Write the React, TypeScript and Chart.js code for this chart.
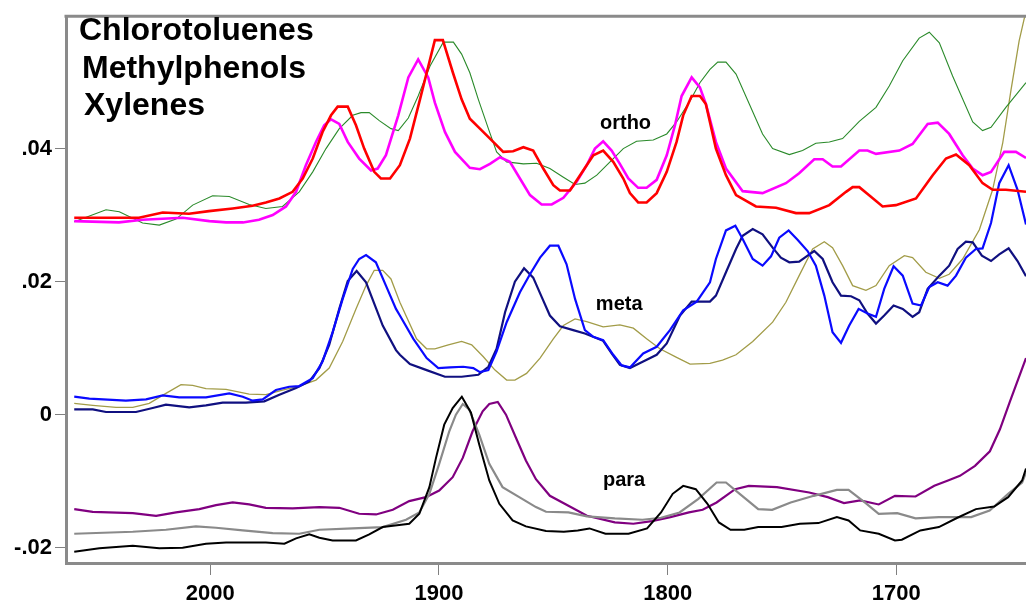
import React, { useEffect, useRef } from "react";
import { Chart, registerables } from "chart.js";

Chart.register(...registerables);

// ---- axis ticks ----
const xTickValues = [2000, 1900, 1800, 1700];
const xTickLabels = ["2000", "1900", "1800", "1700"];
const yTickValues = [0.04, 0.02, 0, -0.02];
const yTickLabels = [".04", ".02", "0", "-.02"];

// ---- text ----
const titleLines = ["Chlorotoluenes", "Methylphenols", "Xylenes"];
const groupLabels = ["ortho", "meta", "para"];

// ---- ortho group ----
const orthoRedX = [2059.5, 2031.2, 2020.8, 2009.3, 2000.6, 1990.2, 1981.5, 1975.7, 1969.8, 1964.0, 1959.6, 1955.2, 1950.9, 1947.2, 1944.3, 1939.9, 1936.3, 1932.7, 1928.3, 1925.4, 1921.4, 1917.1, 1912.7, 1908.3, 1903.9, 1901.8, 1898.3, 1893.9, 1890.1, 1886.5, 1882.1, 1877.7, 1871.9, 1867.6, 1863.1, 1858.8, 1854.4, 1850.0, 1847.1, 1842.7, 1838.3, 1832.5, 1828.2, 1823.8, 1819.4, 1816.5, 1812.9, 1809.2, 1804.8, 1800.4, 1796.1, 1793.2, 1789.5, 1785.9, 1783.3, 1778.9, 1774.5, 1770.1, 1761.4, 1752.6, 1743.9, 1738.1, 1729.3, 1722.0, 1719.1, 1716.2, 1711.9, 1706.0, 1700.2, 1691.4, 1684.1, 1678.3, 1673.9, 1668.1, 1662.3, 1657.9, 1652.1, 1643.3];
const orthoRedY = [0.0296, 0.0296, 0.0304, 0.0302, 0.0306, 0.0310, 0.0314, 0.0319, 0.0325, 0.0335, 0.0355, 0.0385, 0.0425, 0.0450, 0.0463, 0.0463, 0.0435, 0.0400, 0.0365, 0.0355, 0.0355, 0.0375, 0.0415, 0.0474, 0.0534, 0.0563, 0.0563, 0.0514, 0.0474, 0.0445, 0.0430, 0.0415, 0.0395, 0.0396, 0.0402, 0.0397, 0.0370, 0.0345, 0.0337, 0.0337, 0.0360, 0.0390, 0.0397, 0.0380, 0.0355, 0.0333, 0.0319, 0.0319, 0.0333, 0.0365, 0.0410, 0.0450, 0.0479, 0.0479, 0.0467, 0.0400, 0.0360, 0.0330, 0.0313, 0.0311, 0.0303, 0.0303, 0.0315, 0.0335, 0.0342, 0.0342, 0.0330, 0.0313, 0.0315, 0.0325, 0.0360, 0.0385, 0.0391, 0.0375, 0.0348, 0.0338, 0.0338, 0.0335];

const orthoMagentaX = [2059.5, 2039.9, 2029.6, 2012.1, 2000.4, 1993.1, 1985.7, 1978.7, 1972.7, 1966.9, 1962.5, 1958.2, 1953.8, 1950.2, 1947.2, 1943.6, 1939.9, 1934.9, 1929.7, 1926.8, 1923.2, 1917.8, 1913.4, 1909.1, 1904.7, 1901.8, 1897.4, 1893.0, 1886.5, 1882.1, 1877.7, 1873.3, 1869.0, 1864.6, 1860.2, 1855.1, 1850.7, 1845.6, 1839.8, 1835.4, 1831.8, 1828.2, 1824.5, 1820.9, 1817.2, 1812.9, 1809.2, 1804.8, 1800.4, 1796.8, 1793.9, 1789.5, 1785.9, 1783.3, 1778.9, 1774.5, 1767.2, 1758.5, 1748.3, 1742.5, 1735.9, 1732.2, 1727.9, 1724.2, 1716.2, 1712.6, 1708.9, 1698.7, 1692.9, 1686.3, 1681.9, 1676.9, 1671.0, 1666.6, 1662.3, 1658.6, 1652.8, 1647.7, 1643.3];
const orthoMagentaY = [0.0291, 0.0289, 0.0293, 0.0296, 0.0291, 0.0289, 0.0289, 0.0293, 0.0300, 0.0313, 0.0335, 0.0375, 0.0410, 0.0435, 0.0444, 0.0437, 0.0410, 0.0385, 0.0367, 0.0370, 0.0390, 0.0450, 0.0507, 0.0534, 0.0507, 0.0469, 0.0425, 0.0395, 0.0371, 0.0369, 0.0377, 0.0387, 0.0380, 0.0355, 0.0330, 0.0316, 0.0316, 0.0326, 0.0350, 0.0375, 0.0400, 0.0411, 0.0397, 0.0377, 0.0355, 0.0341, 0.0341, 0.0353, 0.0390, 0.0435, 0.0479, 0.0507, 0.0492, 0.0467, 0.0410, 0.0370, 0.0336, 0.0333, 0.0348, 0.0363, 0.0384, 0.0384, 0.0373, 0.0373, 0.0397, 0.0397, 0.0392, 0.0397, 0.0407, 0.0437, 0.0439, 0.0422, 0.0390, 0.0370, 0.0360, 0.0365, 0.0395, 0.0395, 0.0386];

const orthoGreenX = [2059.5, 2045.6, 2039.8, 2029.6, 2022.3, 2015.0, 2007.7, 1999.0, 1991.7, 1983.0, 1975.7, 1968.4, 1961.1, 1955.2, 1949.4, 1943.6, 1937.7, 1934.1, 1930.5, 1926.1, 1921.0, 1917.8, 1913.4, 1909.1, 1903.9, 1898.1, 1893.7, 1890.1, 1886.5, 1882.8, 1878.4, 1874.8, 1870.4, 1863.1, 1857.3, 1851.5, 1845.6, 1840.5, 1836.2, 1831.0, 1825.2, 1819.4, 1813.6, 1806.3, 1800.4, 1796.1, 1790.2, 1785.9, 1781.5, 1778.1, 1774.5, 1770.1, 1764.3, 1758.5, 1754.1, 1746.8, 1741.0, 1735.2, 1729.3, 1723.5, 1716.2, 1708.9, 1703.1, 1697.2, 1690.0, 1685.6, 1681.2, 1675.4, 1666.6, 1662.3, 1658.6, 1652.1, 1643.3];
const orthoGreenY = [0.0290, 0.0308, 0.0305, 0.0288, 0.0285, 0.0294, 0.0315, 0.0329, 0.0328, 0.0316, 0.0310, 0.0313, 0.0335, 0.0365, 0.0400, 0.0430, 0.0450, 0.0454, 0.0454, 0.0442, 0.0430, 0.0427, 0.0446, 0.0479, 0.0524, 0.0560, 0.0560, 0.0542, 0.0514, 0.0474, 0.0430, 0.0395, 0.0380, 0.0377, 0.0378, 0.0370, 0.0357, 0.0346, 0.0348, 0.0360, 0.0380, 0.0400, 0.0411, 0.0413, 0.0422, 0.0440, 0.0472, 0.0499, 0.0519, 0.0530, 0.0530, 0.0512, 0.0467, 0.0422, 0.0400, 0.0391, 0.0397, 0.0408, 0.0410, 0.0415, 0.0441, 0.0462, 0.0494, 0.0532, 0.0566, 0.0575, 0.0559, 0.0509, 0.0440, 0.0427, 0.0432, 0.0462, 0.0499];

// ---- meta group ----
const metaBlueX = [2059.5, 2052.9, 2036.9, 2028.1, 2020.8, 2013.6, 2001.9, 1991.7, 1985.8, 1981.5, 1977.1, 1971.3, 1965.5, 1961.1, 1955.2, 1950.9, 1946.5, 1942.1, 1937.7, 1934.9, 1931.9, 1927.6, 1923.2, 1918.8, 1917.1, 1911.2, 1905.4, 1900.3, 1895.2, 1889.4, 1885.0, 1882.1, 1878.4, 1874.8, 1870.4, 1864.6, 1860.2, 1855.8, 1851.5, 1847.8, 1844.2, 1840.5, 1836.2, 1832.5, 1828.2, 1823.8, 1820.1, 1816.5, 1810.7, 1804.8, 1799.0, 1793.2, 1787.3, 1781.5, 1778.9, 1774.5, 1770.4, 1767.2, 1762.8, 1758.5, 1754.8, 1751.2, 1747.1, 1743.2, 1738.8, 1735.2, 1731.5, 1727.9, 1724.2, 1720.6, 1716.5, 1712.6, 1708.9, 1705.3, 1701.2, 1697.2, 1692.9, 1689.2, 1685.6, 1681.9, 1677.6, 1673.9, 1669.6, 1665.2, 1662.3, 1658.6, 1655.0, 1650.9, 1647.0, 1643.3];
const metaBlueY = [0.0027, 0.0024, 0.0021, 0.0023, 0.0029, 0.0026, 0.0026, 0.0032, 0.0027, 0.0021, 0.0023, 0.0037, 0.0042, 0.0043, 0.0055, 0.0080, 0.0124, 0.0174, 0.0219, 0.0234, 0.0240, 0.0229, 0.0194, 0.0159, 0.0149, 0.0114, 0.0085, 0.0070, 0.0071, 0.0072, 0.0070, 0.0064, 0.0067, 0.0095, 0.0139, 0.0184, 0.0211, 0.0236, 0.0254, 0.0254, 0.0226, 0.0174, 0.0127, 0.0117, 0.0112, 0.0090, 0.0074, 0.0071, 0.0092, 0.0102, 0.0127, 0.0157, 0.0170, 0.0199, 0.0234, 0.0277, 0.0284, 0.0264, 0.0234, 0.0224, 0.0238, 0.0266, 0.0277, 0.0263, 0.0246, 0.0224, 0.0179, 0.0124, 0.0108, 0.0134, 0.0159, 0.0152, 0.0147, 0.0189, 0.0223, 0.0209, 0.0167, 0.0164, 0.0192, 0.0199, 0.0194, 0.0209, 0.0236, 0.0249, 0.0250, 0.0288, 0.0348, 0.0375, 0.0338, 0.0286];

const metaNavyX = [2059.5, 2051.4, 2045.6, 2032.5, 2025.2, 2019.4, 2009.2, 2001.9, 1994.6, 1984.4, 1976.4, 1969.8, 1962.5, 1956.7, 1952.3, 1948.0, 1943.6, 1939.9, 1936.0, 1931.9, 1924.6, 1918.8, 1917.1, 1912.7, 1905.4, 1897.4, 1890.1, 1882.8, 1878.4, 1874.8, 1871.1, 1866.8, 1862.8, 1858.8, 1855.1, 1851.5, 1847.1, 1841.3, 1836.2, 1828.2, 1824.5, 1820.9, 1816.5, 1810.7, 1804.8, 1800.4, 1794.6, 1789.5, 1781.5, 1778.9, 1774.5, 1770.1, 1767.2, 1762.8, 1758.5, 1754.1, 1750.5, 1746.8, 1742.5, 1738.8, 1735.9, 1732.2, 1727.9, 1724.2, 1719.8, 1716.2, 1712.6, 1708.9, 1705.3, 1701.2, 1697.2, 1692.9, 1690.0, 1686.3, 1681.2, 1676.9, 1673.2, 1669.6, 1666.6, 1662.6, 1658.6, 1655.0, 1650.9, 1647.0, 1643.3];
const metaNavyY = [0.0008, 0.0008, 0.0004, 0.0004, 0.0010, 0.0015, 0.0011, 0.0014, 0.0018, 0.0018, 0.0020, 0.0030, 0.0040, 0.0050, 0.0070, 0.0105, 0.0159, 0.0201, 0.0216, 0.0199, 0.0134, 0.0097, 0.0090, 0.0076, 0.0067, 0.0057, 0.0057, 0.0060, 0.0072, 0.0099, 0.0154, 0.0200, 0.0220, 0.0206, 0.0177, 0.0149, 0.0133, 0.0127, 0.0122, 0.0111, 0.0092, 0.0075, 0.0070, 0.0080, 0.0090, 0.0107, 0.0149, 0.0170, 0.0170, 0.0179, 0.0214, 0.0249, 0.0269, 0.0279, 0.0271, 0.0251, 0.0236, 0.0229, 0.0230, 0.0239, 0.0246, 0.0234, 0.0199, 0.0179, 0.0178, 0.0172, 0.0152, 0.0137, 0.0149, 0.0164, 0.0159, 0.0147, 0.0154, 0.0189, 0.0209, 0.0224, 0.0249, 0.0260, 0.0259, 0.0239, 0.0231, 0.0241, 0.0250, 0.0231, 0.0208];

const metaOliveX = [2059.5, 2051.4, 2041.2, 2033.9, 2026.7, 2019.4, 2012.8, 2007.7, 2001.9, 1993.1, 1983.0, 1975.7, 1968.4, 1961.1, 1953.8, 1948.0, 1942.1, 1936.3, 1931.9, 1928.3, 1924.6, 1921.0, 1917.1, 1909.8, 1905.4, 1901.8, 1895.9, 1890.1, 1885.7, 1880.6, 1875.5, 1870.4, 1866.8, 1861.7, 1855.8, 1850.0, 1845.6, 1840.5, 1835.4, 1828.2, 1820.9, 1815.0, 1809.2, 1803.4, 1796.1, 1790.2, 1781.5, 1776.0, 1770.1, 1762.8, 1754.1, 1748.3, 1742.5, 1736.6, 1731.5, 1727.9, 1723.5, 1719.1, 1713.3, 1708.9, 1703.1, 1696.5, 1692.9, 1687.1, 1681.2, 1676.9, 1671.0, 1663.7, 1657.9, 1653.5, 1649.9, 1646.3, 1643.3];
const metaOliveY = [0.0017, 0.0014, 0.0011, 0.0011, 0.0017, 0.0032, 0.0045, 0.0044, 0.0039, 0.0038, 0.0031, 0.0030, 0.0037, 0.0043, 0.0052, 0.0070, 0.0110, 0.0159, 0.0194, 0.0217, 0.0217, 0.0204, 0.0169, 0.0114, 0.0099, 0.0099, 0.0105, 0.0110, 0.0105, 0.0087, 0.0067, 0.0052, 0.0052, 0.0062, 0.0085, 0.0114, 0.0134, 0.0144, 0.0140, 0.0132, 0.0135, 0.0130, 0.0114, 0.0099, 0.0086, 0.0076, 0.0077, 0.0082, 0.0090, 0.0110, 0.0139, 0.0169, 0.0209, 0.0249, 0.0260, 0.0251, 0.0224, 0.0194, 0.0187, 0.0194, 0.0224, 0.0239, 0.0236, 0.0214, 0.0205, 0.0211, 0.0234, 0.0278, 0.0338, 0.0408, 0.0487, 0.0562, 0.0607];

// ---- para group ----
const paraPurpleX = [2059.5, 2051.4, 2033.9, 2023.7, 2015.0, 2004.8, 1997.5, 1990.2, 1983.0, 1975.7, 1964.0, 1952.3, 1943.6, 1934.9, 1927.5, 1920.2, 1913.0, 1905.7, 1899.9, 1894.0, 1889.6, 1885.3, 1880.9, 1878.0, 1874.3, 1870.7, 1866.3, 1862.0, 1857.6, 1851.5, 1843.4, 1835.3, 1823.1, 1815.0, 1806.9, 1798.8, 1790.7, 1784.7, 1778.6, 1770.5, 1764.5, 1752.2, 1738.1, 1730.0, 1722.9, 1715.8, 1707.7, 1700.6, 1691.6, 1683.4, 1677.4, 1672.2, 1665.6, 1659.1, 1654.7, 1650.3, 1643.3];
const paraPurpleY = [-0.0142, -0.0146, -0.0148, -0.0152, -0.0147, -0.0142, -0.0136, -0.0132, -0.0135, -0.0140, -0.0141, -0.0139, -0.0140, -0.0149, -0.0150, -0.0143, -0.0130, -0.0124, -0.0114, -0.0094, -0.0065, -0.0025, 0.0005, 0.0016, 0.0019, 0.0000, -0.0035, -0.0069, -0.0097, -0.0122, -0.0137, -0.0152, -0.0162, -0.0164, -0.0160, -0.0154, -0.0147, -0.0143, -0.0132, -0.0112, -0.0107, -0.0109, -0.0117, -0.0124, -0.0133, -0.0129, -0.0135, -0.0122, -0.0123, -0.0107, -0.0099, -0.0092, -0.0077, -0.0055, -0.0022, 0.0020, 0.0085];

const paraGrayX = [2059.5, 2033.9, 2019.4, 2006.3, 1997.5, 1985.8, 1972.7, 1961.1, 1952.3, 1937.7, 1924.6, 1914.4, 1908.6, 1904.2, 1899.9, 1895.5, 1892.6, 1889.6, 1886.8, 1882.4, 1878.0, 1872.2, 1864.9, 1857.6, 1853.2, 1843.4, 1835.3, 1823.1, 1811.0, 1802.9, 1794.8, 1786.7, 1778.6, 1774.5, 1768.5, 1760.4, 1754.3, 1746.2, 1736.1, 1726.0, 1720.9, 1713.8, 1707.7, 1699.6, 1691.6, 1681.4, 1667.3, 1659.2, 1651.1, 1645.0, 1643.3];
const paraGrayY = [-0.0179, -0.0176, -0.0173, -0.0168, -0.0170, -0.0174, -0.0178, -0.0179, -0.0173, -0.0171, -0.0169, -0.0158, -0.0147, -0.0119, -0.0074, -0.0025, 0.0000, 0.0016, 0.0008, -0.0030, -0.0074, -0.0109, -0.0124, -0.0139, -0.0146, -0.0147, -0.0153, -0.0156, -0.0158, -0.0155, -0.0147, -0.0127, -0.0102, -0.0102, -0.0119, -0.0142, -0.0143, -0.0132, -0.0122, -0.0113, -0.0113, -0.0132, -0.0149, -0.0148, -0.0156, -0.0154, -0.0154, -0.0144, -0.0119, -0.0102, -0.0087];

const paraBlackX = [2059.5, 2048.5, 2033.9, 2022.3, 2012.1, 2001.9, 1993.1, 1975.7, 1967.6, 1962.5, 1956.7, 1952.3, 1946.5, 1936.3, 1930.5, 1924.6, 1917.4, 1913.0, 1908.6, 1904.2, 1901.3, 1897.7, 1894.0, 1890.0, 1886.0, 1882.4, 1878.0, 1873.6, 1867.8, 1862.0, 1853.2, 1845.4, 1839.3, 1834.2, 1827.2, 1817.1, 1809.0, 1802.9, 1797.8, 1793.2, 1787.7, 1782.6, 1777.6, 1772.5, 1766.5, 1760.4, 1750.2, 1742.2, 1734.1, 1726.0, 1720.9, 1715.8, 1707.7, 1700.6, 1697.6, 1689.5, 1681.4, 1673.3, 1665.2, 1657.2, 1651.1, 1645.0, 1643.3];
const paraBlackY = [-0.0206, -0.0201, -0.0197, -0.0201, -0.0200, -0.0194, -0.0192, -0.0192, -0.0194, -0.0186, -0.0180, -0.0185, -0.0189, -0.0189, -0.0180, -0.0169, -0.0166, -0.0164, -0.0149, -0.0109, -0.0065, -0.0015, 0.0010, 0.0027, 0.0003, -0.0045, -0.0099, -0.0134, -0.0159, -0.0168, -0.0175, -0.0176, -0.0174, -0.0171, -0.0179, -0.0179, -0.0171, -0.0147, -0.0119, -0.0107, -0.0112, -0.0134, -0.0162, -0.0173, -0.0173, -0.0169, -0.0169, -0.0164, -0.0163, -0.0154, -0.0159, -0.0174, -0.0179, -0.0189, -0.0188, -0.0174, -0.0169, -0.0155, -0.0142, -0.0138, -0.0124, -0.0099, -0.0081];

const FONT = '"Liberation Sans", Arial, Helvetica, sans-serif';

function zip(xs: number[], ys: number[]) {
  const n = Math.min(xs.length, ys.length);
  const out: { x: number; y: number }[] = [];
  for (let i = 0; i < n; i++) out.push({ x: xs[i], y: ys[i] });
  return out;
}

export default function App() {
  const ref = useRef<HTMLCanvasElement | null>(null);

  useEffect(() => {
    const canvas = ref.current;
    if (!canvas) return;

    const series = [
      { name: "ortho red", xs: orthoRedX, ys: orthoRedY, color: "#ff0000", width: 2.6 },
      { name: "ortho magenta", xs: orthoMagentaX, ys: orthoMagentaY, color: "#ff00ff", width: 2.6 },
      { name: "ortho green", xs: orthoGreenX, ys: orthoGreenY, color: "#2a8a2a", width: 1.1 },
      { name: "meta blue", xs: metaBlueX, ys: metaBlueY, color: "#0a0aff", width: 2.2 },
      { name: "meta navy", xs: metaNavyX, ys: metaNavyY, color: "#101080", width: 2.2 },
      { name: "meta olive", xs: metaOliveX, ys: metaOliveY, color: "#a29c48", width: 1.3 },
      { name: "para black", xs: paraBlackX, ys: paraBlackY, color: "#000000", width: 2.0 },
      { name: "para gray", xs: paraGrayX, ys: paraGrayY, color: "#8a8a8a", width: 2.2 },
      { name: "para purple", xs: paraPurpleX, ys: paraPurpleY, color: "#800080", width: 2.2 },
    ];

    const labelAnchors = [
      { x: 1829.6, y: 0.0430 },
      { x: 1831.4, y: 0.0158 },
      { x: 1828.3, y: -0.0107 },
    ];

    const framePlugin = {
      id: "frameAndText",
      afterDraw(chart: any) {
        const { ctx, chartArea, scales } = chart;
        ctx.save();
        ctx.strokeStyle = "#8a8a8a";
        ctx.lineWidth = 3;
        ctx.beginPath();
        ctx.moveTo(chartArea.left - 1.5, chartArea.top);
        ctx.lineTo(chart.width, chartArea.top);
        ctx.stroke();

        ctx.fillStyle = "#000";
        ctx.textAlign = "left";
        ctx.textBaseline = "alphabetic";
        ctx.font = `bold 32px ${FONT}`;
        const tx = [79, 82, 84];
        const ty = [40, 78, 115];
        titleLines.forEach((t, i) => ctx.fillText(t, tx[i], ty[i]));

        ctx.font = `bold 20px ${FONT}`;
        groupLabels.forEach((t, i) => {
          const a = labelAnchors[i];
          ctx.fillText(t, scales.x.getPixelForValue(a.x), scales.y.getPixelForValue(a.y));
        });
        ctx.restore();
      },
    };

    const tickFont = { family: FONT, size: 22, weight: "bold" as const };

    const chart = new Chart(canvas, {
      type: "line",
      data: {
        datasets: series.map((s) => ({
          label: s.name,
          data: zip(s.xs, s.ys),
          borderColor: s.color,
          backgroundColor: s.color,
          borderWidth: s.width,
          pointRadius: 0,
          tension: 0,
          fill: false,
        })),
      },
      options: {
        responsive: false,
        animation: false,
        devicePixelRatio: 1,
        layout: { padding: { top: 12, right: 0, bottom: 0, left: 0 } },
        plugins: {
          legend: { display: false },
          tooltip: { enabled: false },
        },
        elements: { point: { radius: 0 }, line: { tension: 0 } },
        scales: {
          x: {
            type: "linear",
            reverse: true,
            min: 1643.3,
            max: 2063.1,
            afterBuildTicks: (s: any) => {
              s.ticks = xTickValues.map((v) => ({ value: v }));
            },
            afterFit: (s: any) => {
              s.height = 41;
            },
            ticks: {
              autoSkip: false,
              maxRotation: 0,
              minRotation: 0,
              padding: 6,
              color: "#000",
              font: tickFont,
              callback: (v: any) => {
                const i = xTickValues.indexOf(Number(v));
                return i >= 0 ? xTickLabels[i] : "";
              },
            },
            grid: { drawOnChartArea: false, drawTicks: true, tickLength: 12, color: "#808080", lineWidth: 1 },
            border: { display: true, color: "#8a8a8a", width: 3 },
          },
          y: {
            type: "linear",
            min: -0.0223,
            max: 0.0599,
            afterBuildTicks: (s: any) => {
              s.ticks = yTickValues.map((v) => ({ value: v }));
            },
            afterFit: (s: any) => {
              s.width = 66;
            },
            ticks: {
              autoSkip: false,
              padding: 3,
              color: "#000",
              font: tickFont,
              callback: (v: any) => {
                const i = yTickValues.indexOf(Number(v));
                return i >= 0 ? yTickLabels[i] : "";
              },
            },
            grid: { drawOnChartArea: false, drawTicks: true, tickLength: 11, color: "#808080", lineWidth: 1 },
            border: { display: true, color: "#8a8a8a", width: 3 },
          },
        },
      },
      plugins: [framePlugin],
    } as any);

    return () => chart.destroy();
  }, []);

  return (
    <div style={{ position: "absolute", left: 0, top: 0, width: 1026, height: 604, background: "#fff" }}>
      <canvas ref={ref} width={1026} height={604} style={{ display: "block", width: 1026, height: 604 }} />
    </div>
  );
}
